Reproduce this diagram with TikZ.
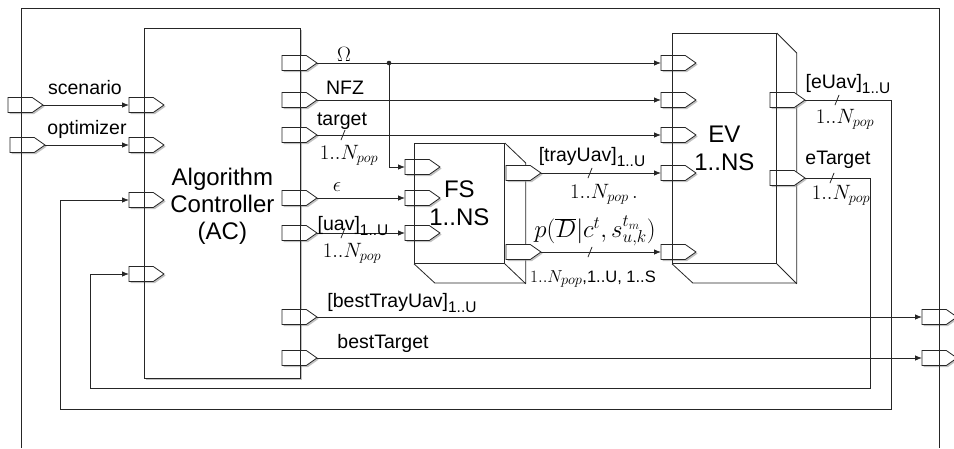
\documentclass[tikz,border=0pt]{standalone}
\usepackage{fontspec}
\setmainfont{Liberation Sans}
\usetikzlibrary{shapes.symbols,shadows,arrows.meta}
\newcommand\lsub[1]{\raisebox{-4.5pt}{\fontsize{15.5}{16}\selectfont #1}}
\begin{document}
\begin{tikzpicture}[x=1pt,y=-1pt,
  line width=0.8pt, draw=black!85,
  shd/.style={drop shadow={shadow xshift=1.6pt, shadow yshift=-1.6pt, fill=black!40, opacity=0.6}},
  port/.style={signal, signal to=east, signal pointer angle=70, draw=black!85, fill=white,
    minimum width=35pt, minimum height=15pt, inner sep=0pt, outer sep=0pt, anchor=west, shd},
  arr/.style={draw=black!85, -{Latex[length=7pt,width=5.5pt]}},
  ln/.style={draw=black!85},
  lbl/.style={font=\fontsize{19.5}{22}\selectfont, inner sep=0pt},
  mlbl/.style={font=\fontsize{20.5}{23}\selectfont, inner sep=0pt},
  big/.style={font=\fontsize{24}{28}\selectfont, align=center, inner sep=0pt},
  slash/.style={fill=black!85, minimum width=0.8pt, minimum height=11pt, inner sep=0pt, rotate=-22},
  blockfill/.style={fill=white, inner sep=0pt, anchor=north west},
]
\useasboundingbox (0,0) rectangle (954,448);

% outer frame (open at bottom)
\draw[ln] (21,448) -- (21,8) -- (939,8) -- (939,448);

% ---- block fills ----
\node[blockfill, shd, minimum width=156pt, minimum height=350pt] (ac) at (144,28) {};
\node[big, font=\fontsize{24}{27}\selectfont] (actext) at ([yshift=-3pt]ac.center) {Algorithm\\Controller\\(AC)};

% FS cube
\fill[white] (414,143) -- (504,143) -- (525,163) -- (525,283) -- (434,283) -- (414,263) -- cycle;
\node[blockfill, minimum width=90pt, minimum height=120pt] (fs) at (414,143) {};
\draw[ln] (fs.north east) -- ++(21,20) -- ++(0,120) -- ++(-91,0) -- (fs.south west);
\draw[ln] (fs.south east) -- ++(21,20);
\node[big] (fstext) at (fs.center) {FS\\1..NS};

% EV cube
\fill[white] (672,33) -- (776,33) -- (796,53) -- (796,283) -- (692,283) -- (672,263) -- cycle;
\node[blockfill, minimum width=104pt, minimum height=230pt] (ev) at (672,33) {};
\draw[ln] (ev.north east) -- ++(20,20) -- ++(0,230) -- ++(-104,0) -- (ev.south west);
\draw[ln] (ev.south east) -- ++(20,20);
\node[big] (evtext) at (ev.center) {EV\\1..NS};

% ---- ports ----
\node[port] (fScen) at (8,105) {};
\node[port] (fOpt) at (10,145) {};
\node[port] (fBT) at (922,317) {};
\node[port] (fBG) at (922,358) {};

\node[port] (aScen) at (129,105) {};
\node[port] (aOpt) at (129,145) {};
\node[port] (aFb1) at (129,200) {};
\node[port] (aFb2) at (129,274) {};

\node[port] (aOm) at (282,63) {};
\node[port] (aNFZ) at (282,100) {};
\node[port] (aTgt) at (282,135) {};
\node[port] (aEps) at (282,198) {};
\node[port] (aUav) at (282,233) {};
\node[port] (aBT) at (282,317) {};
\node[port] (aBG) at (282,358) {};

\node[port] (fsOm) at (405,167) {};
\node[port] (fsEps) at (405,198) {};
\node[port] (fsUav) at (405,233) {};
\node[port] (fsTray) at (506,173) {};
\node[port] (fsP) at (506,252) {};

\node[port] (evOm) at (661,63) {};
\node[port] (evNFZ) at (661,100) {};
\node[port] (evTgt) at (661,135) {};
\node[port] (evTray) at (661,173) {};
\node[port] (evP) at (661,252) {};
\node[port] (evE) at (770,100) {};
\node[port] (evT) at (770,178) {};

% ---- block outlines on top ----
\draw[ln] (ac.north west) rectangle (ac.south east);
\draw[ln] (fs.north west) rectangle (fs.south east);
\draw[ln] (ev.north west) rectangle (ev.south east);
\draw[ln] (21,90) -- (21,160);
\draw[ln] (939,300) -- (939,375);

% ---- connectors ----
\draw[arr] (fScen.east) -- (aScen.west);
\draw[arr] (fOpt.east) -- (aOpt.west);

\coordinate (j) at (389,63);
\draw[arr] (aOm.east) -- (evOm.west);
\fill[black!85] (j) circle (2.3pt);
\draw[arr] (j) |- (fsOm.west);
\draw[arr] (aNFZ.east) -- (evNFZ.west);
\draw[arr] (aTgt.east) -- (evTgt.west);
\draw[arr] (aEps.east) -- (fsEps.west);
\draw[arr] (aUav.east) -- (fsUav.west);
\draw[arr] (fsTray.east) -- (evTray.west);
\draw[arr] (fsP.east) -- (evP.west);
\draw[arr] (aBT.east) -- (fBT.west);
\draw[arr] (aBG.east) -- (fBG.west);

\coordinate (c1) at (891,409);
\coordinate (c2) at (60,409);
\draw[arr] (evE.east) -| (c1) -- (c2) |- (aFb1.west);
\coordinate (d1) at (870,388);
\coordinate (d2) at (90,388);
\draw[arr] (evT.east) -| (d1) -- (d2) |- (aFb2.west);

% ---- slash marks ----
\node[slash] (s1) at (343,135) {};
\node[slash] (s2) at (343,233) {};
\node[slash] (s3) at (590,173) {};
\node[slash] (s4) at (590,252) {};
\node[slash] (s5) at (837,100) {};
\node[slash] (s6) at (832,178) {};

% ---- labels ----
\node[lbl] (lScen) at (85,88) {scenario};
\node[lbl] (lOpt) at (87,129) {optimizer};
\node[mlbl] (lOm) at (344,54) {$\Omega$};
\node[lbl] (lNFZ) at (345,88) {NFZ};
\node[lbl] (lTgt) at (342,121) {target};
\node[mlbl] (lTgtN) at (349,155) {$1..N_{pop}$};
\node[mlbl] (lEps) at (337,187) {$\epsilon$};
\node[lbl] (lUav) at (353,226) {[uav]\lsub{1..U}};
\node[mlbl] (lUavN) at (352,253) {$1..N_{pop}$};
\node[lbl] (lTray) at (592,157) {[trayUav]\lsub{1..U}};
\node[mlbl] (lTrayN) at (604,194) {$1..N_{pop}\,.$};
\node[lbl, font=\fontsize{26}{28}\selectfont] (lP) at (595,231) {$p(\overline{D}|c^t, s^{t_m}_{u,k})$};
\node[mlbl, font=\fontsize{19}{22}\selectfont] (lPN) at (593,279) {$1..N_{pop}$\fontsize{16.5}{20}\selectfont,1..U, 1..S};
\node[lbl] (lE) at (848,84) {[eUav]\lsub{1..U}};
\node[mlbl] (lEN) at (845,119) {$1..N_{pop}$};
\node[lbl] (lT) at (838,160) {eTarget};
\node[mlbl] (lTN) at (841,195) {$1..N_{pop}$};
\node[lbl] (lBT) at (402,303) {[bestTrayUav]\lsub{1..U}};
\node[lbl] (lBG) at (383,343) {bestTarget};
\end{tikzpicture}
\end{document}
